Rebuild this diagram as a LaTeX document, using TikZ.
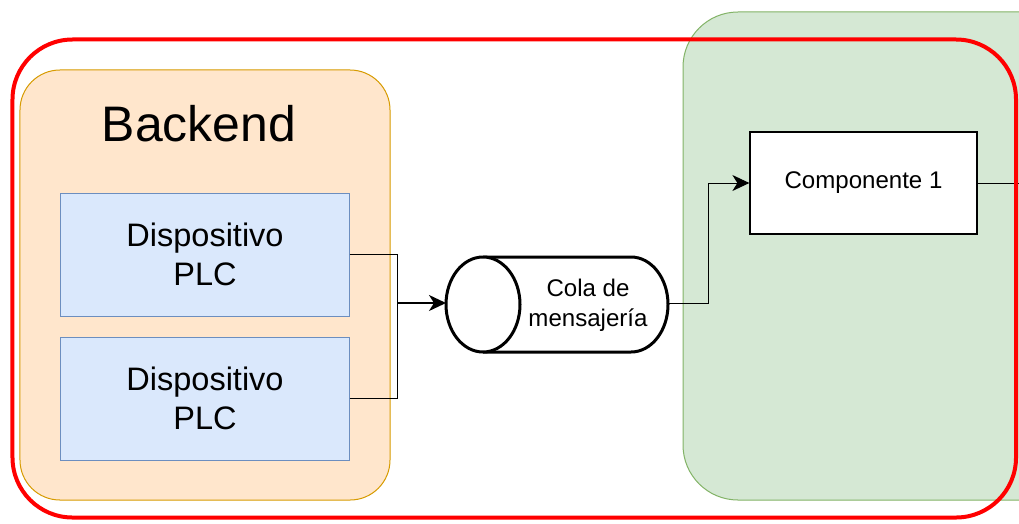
\documentclass[tikz,border=0pt]{standalone}
\usepackage{fontspec}
\setmainfont{Liberation Sans}
\usetikzlibrary{arrows.meta,positioning}
\definecolor{Rojo}{HTML}{FF0000}
\definecolor{Naranja}{HTML}{D79B00}
\definecolor{SoftNaranja}{HTML}{FFE6CC}
\definecolor{Azul}{HTML}{6C8EBF}
\definecolor{SoftAzul}{HTML}{DAE8FC}
\definecolor{Verde}{HTML}{82B366}
\definecolor{SoftVerde}{HTML}{D5E8D4}

\begin{document}
\begin{tikzpicture}[x=0.2mm,y=-0.2mm,
  marco/.style={rounded corners=12mm,draw=Rojo,line width=0.8mm,minimum width=200.7mm,minimum height=95.6mm},
  grupo/.style={rounded corners=8mm,draw=Naranja,fill=SoftNaranja,line width=0.2mm,minimum width=74mm,minimum height=86mm},
  zona/.style={rounded corners=11mm,draw=Verde,fill=SoftVerde,line width=0.2mm,minimum width=83.4mm,minimum height=97.6mm},
  titulo/.style={font=\fontsize{28.4}{34}\selectfont},
  disp/.style={draw=Azul,fill=SoftAzul,line width=0.2mm,minimum width=57.6mm,minimum height=24.6mm,align=center,font=\fontsize{18.5}{22.2}\selectfont},
  comp/.style={draw,fill=white,line width=0.25mm,minimum width=45.4mm,minimum height=20.4mm,font=\fontsize{13.7}{16.5}\selectfont},
  cola/.style={align=center,font=\fontsize{13.7}{17}\selectfont},
  tubo/.style={draw,fill=white,line width=0.6mm},
  linea/.style={draw,line width=0.2mm},
  flecha/.style={-{Stealth[length=3.4mm,width=3.2mm,inset=1mm]},draw,line width=0.2mm}
]
\useasboundingbox (0,0) rectangle (1019,523);
\node[zona] (procesos) at (891.5,256) {};
\node[grupo] (backend) at (205,285) {};
\node[titulo] (tit) at (199,124) {Backend};
\node[disp] (dev1) at (205,254.5) {Dispositivo\\PLC};
\node[disp] (dev2) at (205,398.5) {Dispositivo\\PLC};
% cola de mensajeria
\draw[tubo] (483,257) -- (631,257) arc[start angle=90,end angle=-90,x radius=7.4mm,y radius=9.5mm] -- (483,352);
\draw[tubo] (483,304.5) ellipse[x radius=7.4mm,y radius=9.5mm];
\node[cola] (cola) at (588,305) {Cola de\\mensajería};
\coordinate (colaW) at (446,303);
\coordinate (colaE) at (668,303);
\node[comp] (comp) at (863.5,183) {Componente 1};
\coordinate (junta) at (397,303);
\coordinate (salida) at (1030,183);
\foreach \d in {dev1,dev2} {
  \draw[linea] (\d.east) -| (junta);
}
\draw[flecha,line width=0.4mm] (junta) -- (colaW);
\draw[flecha] (colaE) -| ([xshift=-8.2mm]comp.west) -- (comp.west);
\draw[linea] (comp.east) -- (salida);
\node[marco] (sistema) at (514.25,278.5) {};
\end{tikzpicture}
\end{document}
